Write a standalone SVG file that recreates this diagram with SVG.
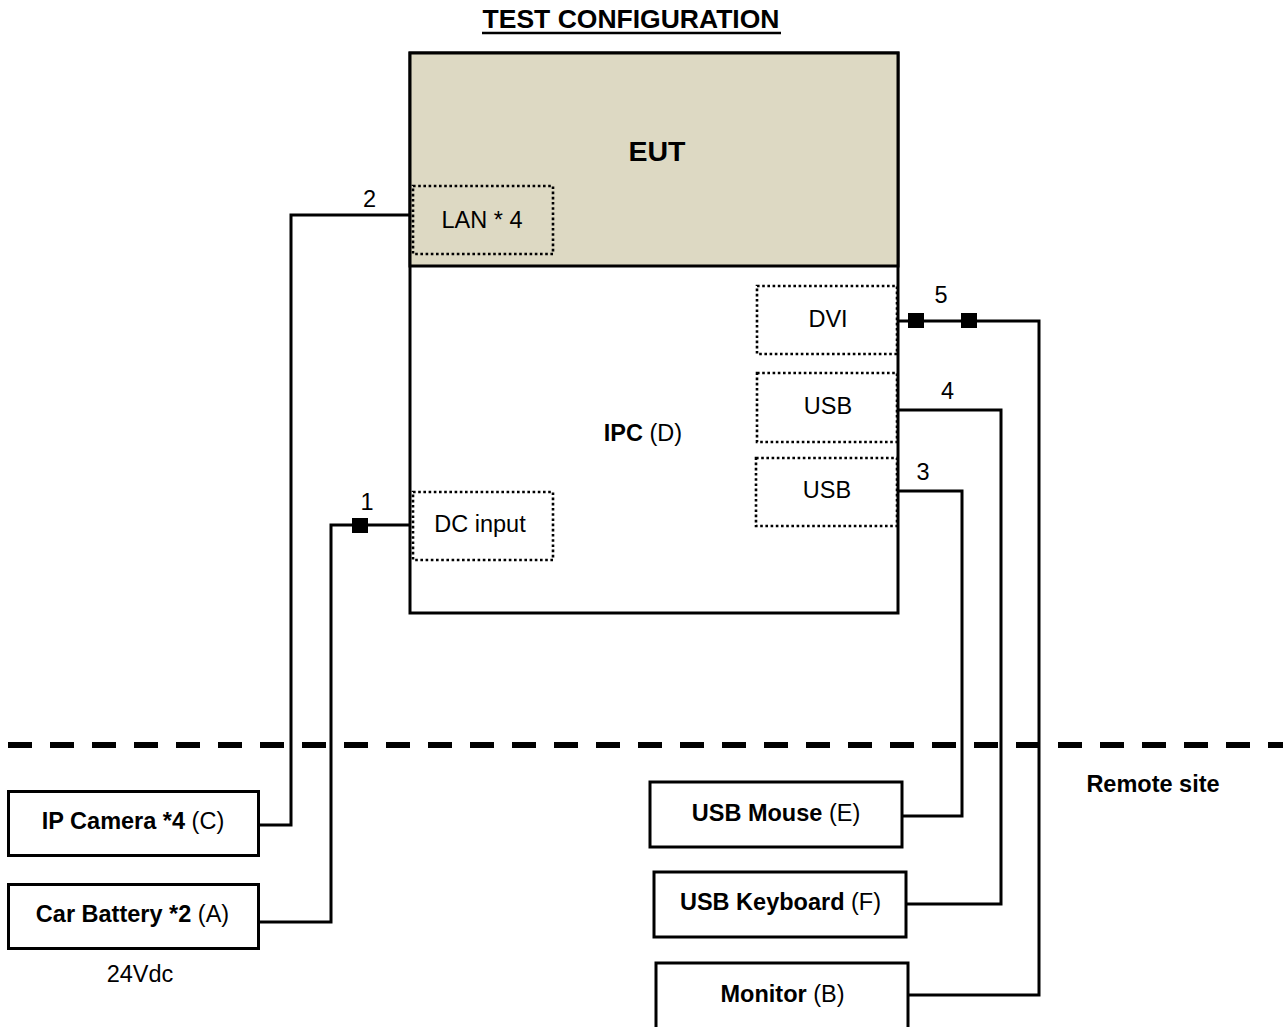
<svg xmlns="http://www.w3.org/2000/svg" width="1283" height="1027" viewBox="0 0 1283 1027">
<style>
text{font-family:"Liberation Sans",Arial,sans-serif;fill:#000;text-anchor:middle}
.t{font-size:23.5px}
.b{font-weight:bold}
.box{fill:#fff;stroke:#000;stroke-width:3}
.port{fill:none;stroke:#000;stroke-width:2.6;stroke-dasharray:2.6 2.6}
.wire{fill:none;stroke:#000;stroke-width:3}
.sq{fill:#000}
</style>
<rect width="1283" height="1027" fill="#fff"/>
<text x="631" y="28" class="b" style="font-size:26.5px">TEST CONFIGURATION</text>
<line x1="482" y1="33" x2="781" y2="33" stroke="#000" stroke-width="2.6"/>
<line x1="8" y1="745" x2="1283" y2="745" stroke="#000" stroke-width="6" stroke-dasharray="24 18"/>
<text x="1153" y="791.5" class="t b">Remote site</text>
<g id="eut">
<rect x="410" y="53" width="488" height="560" class="box"/>
<rect x="410" y="53" width="488" height="213" fill="#DDD9C3" stroke="#000" stroke-width="3"/>
<text x="657" y="160.5" class="b" style="font-size:28.5px">EUT</text>
<text x="643" y="441" class="t"><tspan class="b">IPC</tspan> (D)</text>
</g>
<g id="port-lan">
<rect x="413" y="186" width="140" height="68" class="port"/>
<text x="482" y="228" class="t">LAN * 4</text>
</g>
<g id="port-dc">
<rect x="413" y="492" width="140" height="68" class="port"/>
<text x="480" y="531.5" class="t">DC input</text>
</g>
<g id="port-dvi">
<rect x="757" y="286" width="140" height="68" class="port"/>
<text x="828" y="326.5" class="t">DVI</text>
</g>
<g id="port-usb1">
<rect x="757" y="373" width="140" height="69" class="port"/>
<text x="828" y="414" class="t">USB</text>
</g>
<g id="port-usb2">
<rect x="756" y="458" width="141" height="68" class="port"/>
<text x="827" y="498" class="t">USB</text>
</g>
<g id="ipcam">
<rect x="8.5" y="791.5" width="250" height="64" class="box"/>
<text x="133" y="829" class="t"><tspan class="b">IP Camera *4</tspan> (C)</text>
</g>
<g id="battery">
<rect x="8.5" y="884.5" width="250" height="64" class="box"/>
<text x="132.5" y="921.5" class="t"><tspan class="b">Car Battery *2</tspan> (A)</text>
<text x="140" y="982" class="t">24Vdc</text>
</g>
<g id="mouse">
<rect x="650" y="782" width="252" height="65" class="box"/>
<text x="776" y="820.5" class="t"><tspan class="b">USB Mouse</tspan> (E)</text>
</g>
<g id="keyboard">
<rect x="654" y="872" width="252" height="65" class="box"/>
<text x="780.5" y="910" class="t"><tspan class="b">USB Keyboard</tspan> (F)</text>
</g>
<g id="monitor">
<rect x="656" y="963" width="252" height="66" class="box"/>
<text x="782.5" y="1001.5" class="t"><tspan class="b">Monitor</tspan> (B)</text>
</g>
<g id="connectors">
<path d="M410,215 H291 V825 H258" class="wire"/>
<path d="M410,525 H331 V922 H258" class="wire"/>
<rect x="352" y="518" width="16" height="15" class="sq"/>
<path d="M898,321 H1039 V995 H908" class="wire"/>
<rect x="908" y="313" width="16" height="15" class="sq"/>
<rect x="961" y="313" width="16" height="15" class="sq"/>
<path d="M898,410 H1001 V904 H906" class="wire"/>
<path d="M898,491 H962 V816 H902" class="wire"/>
<text x="369.5" y="206.5" class="t">2</text>
<text x="367" y="510" class="t">1</text>
<text x="941" y="303" class="t">5</text>
<text x="947.5" y="399" class="t">4</text>
<text x="923" y="480" class="t">3</text>
</g>
</svg>
